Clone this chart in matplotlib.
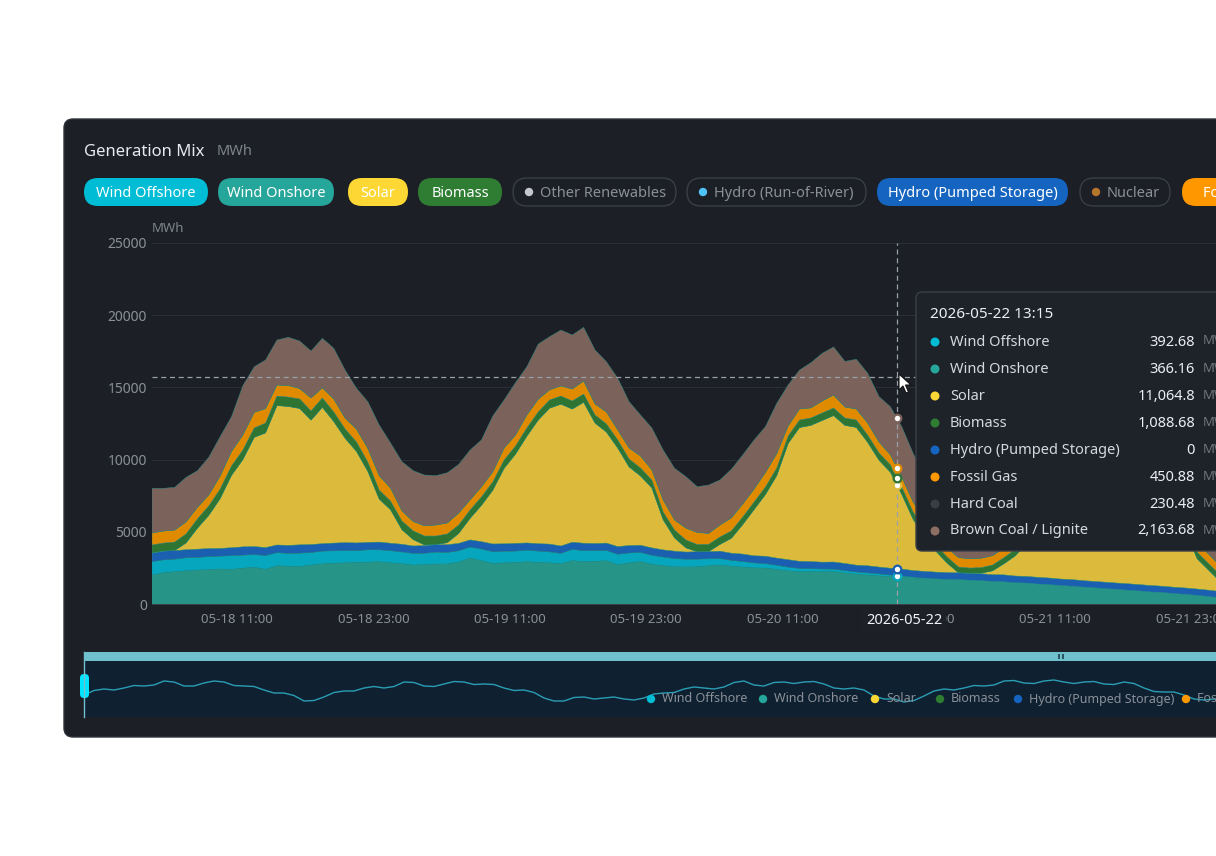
import matplotlib
matplotlib.use("Agg")
import matplotlib.pyplot as plt
import matplotlib.dates as mdates
from matplotlib.patches import FancyBboxPatch, Rectangle, Polygon, Circle
import numpy as np
import pandas as pd

plt.rcParams["font.family"] = ["Noto Sans", "DejaVu Sans"]

W, H = 1216, 856
OUTPUT_PATH = "out.png"

# ---- main stacked series (hourly, MWh) ----
START = "2026-05-18 03:30"
wind_onshore = [
    2010, 2170, 2240, 2300, 2350, 2380, 2430, 2400, 2480, 2540,
    2400, 2650, 2620, 2600, 2700, 2780, 2820, 2850, 2870, 2900,
    2930, 2850, 2780, 2700, 2730, 2770, 2770, 2900, 3180, 3000,
    2800, 2850, 2880, 2930, 2880, 2850, 2780, 3000, 2930, 2950,
    3000, 2720, 2850, 2930, 2750, 2650, 2580, 2560, 2580, 2650,
    2700, 2620, 2560, 2500, 2490, 2400, 2300, 2240, 2240, 2240,
    2240, 2150, 2060, 2010, 1950, 1890, 1850, 1800, 1760, 1740,
    1700, 1690, 1650, 1620, 1560, 1540, 1470, 1450, 1380, 1340,
    1280, 1230, 1170, 1120, 1060, 1010, 950, 900, 830, 790,
    720, 670, 600, 520, 440,
]
wind_offshore = [
    920, 880, 860, 900, 870, 900, 880, 940, 900, 880,
    950, 900, 880, 920, 860, 880, 860, 840, 820, 850,
    820, 840, 820, 800, 780, 820, 800, 780, 760, 800,
    820, 800, 780, 800, 780, 760, 720, 780, 760, 740,
    700, 720, 680, 640, 620, 600, 560, 540, 520, 480,
    440, 400, 380, 340, 300, 280, 250, 220, 200, 180,
    170, 160, 150, 140, 130, 110, 90, 60, 30, 0,
    0, 0, 0, 0, 0, 0, 0, 0, 0, 0,
    0, 0, 0, 0, 0, 0, 0, 0, 0, 0,
    0, 0, 0, 0, 0,
]
hydro_pumped = [
    600, 620, 600, 560, 580, 560, 540, 560, 580, 560,
    560, 540, 560, 580, 560, 520, 540, 560, 540, 520,
    540, 520, 540, 520, 540, 520, 540, 520, 500, 520,
    540, 520, 540, 500, 520, 540, 520, 500, 520, 500,
    520, 540, 520, 500, 520, 500, 520, 500, 520, 500,
    520, 500, 520, 500, 520, 500, 520, 500, 500, 480,
    500, 500, 480, 500, 480, 480, 480, 460, 470, 470,
    480, 470, 490, 480, 470, 480, 470, 460, 470, 460,
    450, 460, 450, 440, 450, 440, 450, 440, 450, 440,
    440, 440, 440, 440, 430,
]
solar = [
    0, 0, 0, 470, 1450, 2300, 3450, 5010, 6040, 7560,
    7940, 9650, 9620, 9440, 8610, 9440, 8420, 7230, 6340, 4920,
    2980, 2320, 1010, 440, 40, 0, 140, 690, 1490, 2510,
    3720, 5230, 6180, 7390, 8560, 9410, 9820, 9220, 9760, 8340,
    7690, 6820, 5440, 4800, 4150, 2080, 920, 290, 0, 0,
    470, 1030, 2040, 3200, 4270, 5720, 8050, 9260, 9430, 9810,
    10140, 9560, 9540, 8550, 7400, 6650, 5180, 3550, 2410, 1450,
    650, 0, 0, 40, 270, 770, 1400, 2300, 3300, 4300,
    5300, 6200, 7000, 7600, 8000, 8200, 8100, 7800, 7200, 6300,
    5200, 4000, 2100, 1400, 700,
]
biomass = [
    560, 550, 590, 620, 640, 650, 660, 650, 660, 650,
    680, 660, 650, 660, 640, 650, 660, 640, 650, 640,
    620, 600, 600, 600, 620, 600, 600, 580, 580, 580,
    570, 570, 560, 570, 560, 570, 560, 560, 570, 560,
    560, 560, 550, 550, 550, 540, 540, 540, 500, 500,
    510, 510, 520, 520, 520, 520, 510, 520, 510, 520,
    520, 510, 510, 500, 500, 500, 500, 500, 480, 450,
    420, 400, 350, 380, 400, 420, 440, 450, 460, 460,
    470, 470, 470, 480, 480, 480, 480, 480, 470, 470,
    460, 460, 450, 450, 450,
]
fossil_gas = [
    830, 830, 830, 830, 800, 760, 900, 1000, 1040, 1080,
    1000, 760, 800, 720, 900, 700, 900, 760, 900, 950,
    1000, 900, 700, 650, 700, 760, 760, 830, 700, 700,
    700, 830, 760, 900, 880, 700, 700, 830, 900, 760,
    830, 700, 760, 830, 700, 830, 700, 830, 830, 760,
    830, 900, 900, 900, 1000, 1000, 700, 760, 700, 830,
    900, 760, 760, 830, 760, 700, 700, 700, 680, 660,
    650, 650, 650, 650, 650, 660, 680, 700, 700, 720,
    720, 720, 740, 740, 740, 740, 740, 720, 720, 700,
    700, 700, 680, 660, 650,
]
brown_coal = [
    3090, 2960, 2960, 3090, 2540, 2610, 2730, 2410, 3420, 3160,
    3370, 3120, 3340, 3290, 3250, 3430, 3510, 3320, 2820, 3230,
    3510, 3120, 3410, 3520, 3520, 3420, 3480, 3370, 3450, 3250,
    3870, 3330, 3630, 3340, 3820, 3680, 3870, 3740, 3720, 3740,
    3480, 3570, 3210, 2840, 2900, 3460, 3580, 3560, 3170, 3350,
    3120, 3370, 3400, 3400, 3180, 3480, 2840, 2700, 3130, 3300,
    3330, 3160, 3450, 3450, 3140, 3330, 3480, 3370, 3000, 2600,
    2100, 1600, 1200, 1000, 1000, 1200, 1500, 1800, 2100, 2400,
    2600, 2800, 3000, 3000, 3100, 3100, 3000, 3000, 2900, 2800,
    2600, 2400, 2000, 1600, 1300,
]

stack_series = [wind_onshore, wind_offshore, hydro_pumped, solar, biomass, fossil_gas, brown_coal]
stack_colors = ["#269487", "#06a6be", "#1a5fb0", "#dcbb3c", "#2e7432", "#e08a00", "#7b625b"]

# ---- overview (data zoom) line ----
overview_values = [
    2200, 2650, 2800, 2700, 2900, 3150, 3100, 3200, 3600, 3500,
    3100, 3100, 3400, 3600, 3500, 3150, 3100, 3050, 2700, 2400,
    2400, 2150, 1600, 1650, 2000, 2450, 2600, 2600, 2900, 3050,
    2900, 3050, 3500, 3450, 3100, 3050, 3300, 3550, 3500, 3250,
    3300, 3250, 2900, 2650, 2700, 2450, 1900, 1600, 1600, 1950,
    2000, 1800, 1900, 2000, 1800, 1700, 1900, 2300, 2400, 2450,
    2800, 3000, 2900, 2800, 3000, 3450, 3600, 3200, 3100, 3450,
    3500, 3350, 3500, 3550, 3300, 2900, 2800, 2900, 2700, 2100,
    1800, 1800, 1500, 1650, 2100, 2600, 2800, 2700, 2900, 3150,
    3100, 3200, 3600, 3650, 3400, 3350, 3600, 3700, 3500, 3350,
    3500, 3550, 3300, 3250, 3500, 3350, 2900, 2550, 2500, 2500,
    2200, 1800, 1700, 1800, 1600,
]

# ---- legend chips ----
chip_names = ["Wind Offshore", "Wind Onshore", "Solar", "Biomass", "Other Renewables",
              "Hydro (Run-of-River)", "Hydro (Pumped Storage)", "Nuclear", "Fossil Gas"]
chip_colors = ["#00bcd4", "#26a69a", "#fdd835", "#2e7d32", "#c5c6d0",
               "#4fc3f7", "#1565c0", "#b5762a", "#ff9800"]
chip_active = [True, True, True, True, False, False, True, False, True]

# ---- tooltip ----
tooltip_title = "2026-05-22 13:15"
tooltip_names = ["Wind Offshore", "Wind Onshore", "Solar", "Biomass", "Hydro (Pumped Storage)",
                 "Fossil Gas", "Hard Coal", "Brown Coal / Lignite"]
tooltip_values = [392.68, 366.16, 11064.8, 1088.68, 0, 450.88, 230.48, 2163.68]
tooltip_colors = ["#00bcd4", "#26a69a", "#fdd835", "#2e7d32", "#1565c0", "#ff9800", "#3a3d42", "#8d6e63"]

hover_time = pd.Timestamp("2026-05-20 21:05")
hover_value = 15720
axis_date_label = "2026-05-22"

overview_legend = ["Wind Offshore", "Wind Onshore", "Solar", "Biomass", "Hydro (Pumped Storage)", "Fossil Gas"]
overview_legend_colors = ["#00bcd4", "#26a69a", "#fdd835", "#2e7d32", "#1565c0", "#ff9800"]

CARD = "#1c1f26"
MUTED = "#8a8f98"


def fmt_value(v):
    return f"{v:,.2f}".rstrip("0").rstrip(".")


def main():
    times = pd.date_range(START, periods=len(wind_onshore), freq="h")

    fig = plt.figure(figsize=(W / 100, H / 100), dpi=100, facecolor="white")

    # background layer in pixel coordinates
    bg = fig.add_axes([0, 0, 1, 1], zorder=0)
    bg.set_xlim(0, W)
    bg.set_ylim(H, 0)
    bg.axis("off")

    bg.add_patch(FancyBboxPatch((64, 119), 1250, 618, boxstyle="round,pad=0,rounding_size=9",
                                facecolor=CARD, edgecolor="#2e323a", linewidth=1))
    bg.text(84, 152, "Generation Mix", color="#e8eaed", fontsize=12, fontweight="medium",
            va="center", ha="left")
    bg.text(217, 151, "MWh", color="#7d838c", fontsize=10.5, va="center", ha="left")

    chip_x = [84, 218, 348, 418, 513, 687, 877, 1080, 1182]
    chip_w = [124, 116, 60, 84, 163, 179, 191, 90, 110]
    for name, color, active, x0, w in zip(chip_names, chip_colors, chip_active, chip_x, chip_w):
        if active:
            bg.add_patch(FancyBboxPatch((x0, 178), w, 28, boxstyle="round,pad=0,rounding_size=14",
                                        facecolor=color, edgecolor="none"))
            bg.text(x0 + w / 2, 193, name, color="white", fontsize=10.5, fontweight="medium",
                    ha="center", va="center")
        else:
            bg.add_patch(FancyBboxPatch((x0, 178), w, 28, boxstyle="round,pad=0,rounding_size=14",
                                        facecolor=CARD, edgecolor="#3a3e47", linewidth=1))
            bg.add_patch(Circle((x0 + 16, 192), 4.2, facecolor=color, edgecolor="none"))
            bg.text(x0 + 27, 193, name, color=MUTED, fontsize=10.5, ha="left", va="center")

    bg.text(152, 228, "MWh", color="#7d838c", fontsize=9.5, ha="left", va="center")

    # data zoom slider background
    bg.add_patch(Rectangle((84, 661), 1140, 56, facecolor="#0f2130", edgecolor="none"))
    bg.add_patch(Rectangle((84, 652), 1140, 9, facecolor="#6fbfcc", edgecolor="none"))
    bg.add_patch(Rectangle((1058, 654), 1.5, 5, facecolor="#2b5560", edgecolor="none"))
    bg.add_patch(Rectangle((1062, 654), 1.5, 5, facecolor="#2b5560", edgecolor="none"))

    # main chart
    ax = fig.add_axes([152 / W, (H - 604) / H, (W - 152) / W, 361 / H], zorder=2)
    ax.set_facecolor("none")
    ax.stackplot(times, *stack_series, colors=stack_colors, linewidth=0.3,
                 edgecolors=stack_colors, zorder=2)
    ax.set_ylim(0, 25000)
    ax.set_xlim(times[0], times[0] + pd.Timedelta(hours=93.66))
    ax.set_yticks(range(0, 25001, 5000))
    ax.yaxis.grid(True, color="#2b2f37", linewidth=0.8)
    ax.set_axisbelow(True)
    ax.xaxis.set_major_locator(mdates.HourLocator(byhour=[11, 23]))
    ax.xaxis.set_major_formatter(mdates.DateFormatter("%m-%d %H:%M"))
    ax.tick_params(axis="y", length=0, pad=3.6, labelsize=10, labelcolor=MUTED)
    ax.tick_params(axis="x", length=0, pad=6.5, labelsize=9.5, labelcolor=MUTED)
    for side in ["top", "right", "left"]:
        ax.spines[side].set_visible(False)
    ax.spines["bottom"].set_color("#3b404a")

    # crosshair + hover markers
    ax.axvline(hover_time, color="#9a9fa8", linestyle=(0, (4, 3)), linewidth=0.9, zorder=4)
    ax.axhline(hover_value, color="#9a9fa8", linestyle=(0, (4, 3)), linewidth=0.9, zorder=4)
    tnum = mdates.date2num(times)
    hnum = mdates.date2num(hover_time)
    tops = np.cumsum(np.array(stack_series, dtype=float), axis=0)
    for top, color in zip(tops, stack_colors):
        ax.plot([hover_time], [np.interp(hnum, tnum, top)], marker="o", markersize=5.5,
                markerfacecolor="white", markeredgecolor=color, markeredgewidth=1.6, zorder=5)

    # overview line
    ov = fig.add_axes([84 / W, (H - 717) / H, 1140 / W, 56 / H], zorder=1)
    ov.set_facecolor("none")
    ov.plot(range(len(overview_values)), overview_values, color="#2a9db5", linewidth=1)
    ov.set_xlim(0, len(overview_values) - 1)
    ov.set_ylim(0, 5600)
    ov.axis("off")

    # overlay: tooltip, cursor, date label, slider legend/handle
    top = fig.add_axes([0, 0, 1, 1], zorder=3)
    top.set_facecolor("none")
    top.set_xlim(0, W)
    top.set_ylim(H, 0)
    top.axis("off")

    top.add_patch(FancyBboxPatch((916, 292), 360, 259, boxstyle="round,pad=0,rounding_size=6",
                                 facecolor="#1e2229", edgecolor="#3a3f48", linewidth=1))
    top.text(930, 315, tooltip_title, color="#eceef1", fontsize=11, fontweight="bold",
             ha="left", va="center")
    for k, (name, val, color) in enumerate(zip(tooltip_names, tooltip_values, tooltip_colors)):
        y = 342 + 27 * k
        top.add_patch(Circle((935, y), 4.5, facecolor=color, edgecolor="none"))
        top.text(950, y, name, color="#d5d8dc", fontsize=10.5, ha="left", va="center")
        top.text(1195, y, fmt_value(val), color="#eceef1", fontsize=10.5, fontweight="medium",
                 ha="right", va="center")
        top.text(1203, y - 1, "MWh", color="#6f747c", fontsize=9.5, ha="left", va="center")

    cursor = [(899, 374), (899, 390), (903, 386), (906, 393), (908.5, 392), (905.5, 385), (911, 385)]
    top.add_patch(Polygon(cursor, closed=True, facecolor="white", edgecolor="#111111", linewidth=0.8))

    top.add_patch(Rectangle((862, 608), 84, 25, facecolor="#1d2027", edgecolor="none"))
    top.text(904, 621, axis_date_label, color="#f2f3f5", fontsize=10.5, fontweight="bold",
             ha="center", va="center")

    leg_x = [651, 763, 875, 940, 1018, 1186]
    for name, color, x0 in zip(overview_legend, overview_legend_colors, leg_x):
        top.add_patch(Circle((x0, 699), 4.2, facecolor=color, edgecolor="none"))
        top.text(x0 + 11, 699, name, color=MUTED, fontsize=9, ha="left", va="center")

    top.plot([84, 84], [652, 717], color="#6fbfcc", linewidth=1)
    top.add_patch(FancyBboxPatch((80, 674), 9, 24, boxstyle="round,pad=0,rounding_size=4",
                                 facecolor="#00e5ff", edgecolor="none"))

    fig.savefig(OUTPUT_PATH, dpi=100, facecolor="white")


if __name__ == "__main__":
    main()
